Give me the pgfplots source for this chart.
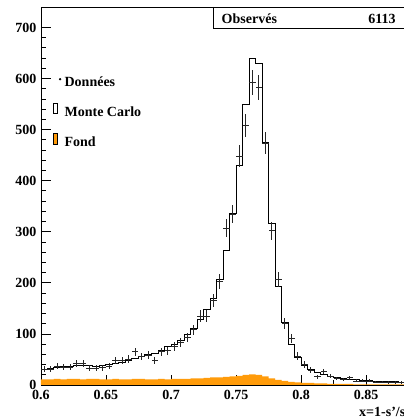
\documentclass[border=0pt]{standalone}
\usepackage{fontspec}
\setmainfont{Liberation Serif}
\usepackage{pgfplots}
\pgfplotsset{compat=1.18}
\usepackage{pgfplotstable}
\definecolor{fond}{RGB}{255,155,10}

% bin lower edge, bin centre, Monte Carlo, data, stat. error, background
\pgfplotstableread{
x     xc     mc   data err  bg
0.600 0.6025 30   31   5.6  11
0.605 0.6075 33   31   5.6  11
0.610 0.6125 35   37   6.1  12
0.615 0.6175 36   35   5.9  11
0.620 0.6225 37   35   5.9  12
0.625 0.6275 38   42   6.5  12
0.630 0.6325 38   42   6.5  11
0.635 0.6375 38   33   5.7  12
0.640 0.6425 37   33   5.7  12
0.645 0.6475 38   34   5.8  11
0.650 0.6525 40   37   6.1  11
0.655 0.6575 43   48   6.9  12
0.660 0.6625 45   48   6.9  11
0.665 0.6675 48   51   7.1  11
0.670 0.6725 51   65   8.1  12
0.675 0.6775 56   56   7.5  12
0.680 0.6825 59   59   7.7  11
0.685 0.6875 62   48   6.9  11
0.690 0.6925 67   65   8.1  12
0.695 0.6975 75   67   8.2  11
0.700 0.7025 80   76   8.7  12
0.705 0.7075 88   83   9.1  12
0.710 0.7125 98   93   9.6  12
0.715 0.7175 111  108  10.4 13
0.720 0.7225 129  135  11.6 13
0.725 0.7275 147  135  11.6 14
0.730 0.7325 170  165  12.8 15
0.735 0.7375 206  203  14.2 15
0.740 0.7425 263  307  17.5 16
0.745 0.7475 335  335  18.3 17
0.750 0.7525 430  448  21.2 18
0.755 0.7575 550  508  22.5 20
0.760 0.7625 640  593  24.4 21
0.765 0.7675 629  582  24.1 20
0.770 0.7725 474  474  21.8 17
0.775 0.7775 316  302  17.4 13
0.780 0.7825 193  207  14.4 10
0.785 0.7875 122  121  11.0 8
0.790 0.7925 80   91   9.5  6
0.795 0.7975 54   57   7.5  5
0.800 0.8025 39   40   6.3  4
0.805 0.8075 31   29   5.4  4
0.810 0.8125 24   16   4.0  3
0.815 0.8175 20   27   5.2  3
0.820 0.8225 16   17   4.1  2
0.825 0.8275 14   13   3.6  2
0.830 0.8325 12   11   3.3  2
0.835 0.8375 11   14   3.7  2
0.840 0.8425 10   8    2.8  1
0.845 0.8475 9    8    2.8  1
0.850 0.8525 8    8    2.8  1
0.855 0.8575 7    6    2.4  1
0.860 0.8625 7    6    2.4  1
0.865 0.8675 6    5    2.2  1
0.870 0.8725 6    5    2.2  1
0.875 0.8775 5    5    2.2  1
0.880 0.8825 5    5    2.2  1
}\histo

\begin{document}
\begin{tikzpicture}
\begin{axis}[
    at={(0,0)}, anchor=origin,
    scale only axis,
    width=364bp, height=378bp,
    xmin=0.6, xmax=0.88,
    ymin=0, ymax=740,
    axis line style={line width=0.9bp},
    tick align=inside,
    xtick pos=bottom, ytick pos=left,
    xtick={0.6,0.65,0.7,0.75,0.8,0.85},
    minor x tick num=1,
    ytick={0,100,200,300,400,500,600,700},
    minor y tick num=4,
    major tick length=10bp, minor tick length=5bp,
    every tick/.style={black, line width=0.8bp},
    scaled ticks=false,
    tick label style={font=\bfseries\fontsize{14bp}{16bp}\selectfont,
        /pgf/number format/assume math mode=true},
    xticklabel style={/pgf/number format/fixed, /pgf/number format/precision=2, yshift=-2bp},
    yticklabel style={xshift=-1bp},
    legend cell align=left,
    legend style={at={(rel axis cs:0.033,0.815)}, anchor=north west,
        draw=none, fill=none, row sep=15bp, inner sep=0pt,
        font=\bfseries\fontsize{14bp}{16bp}\selectfont,
        nodes={inner xsep=3bp, inner ysep=0pt}},
]
\addlegendimage{legend image code/.code={
    \path[draw=none, fill=none] (0bp,-5bp) rectangle (8bp,5bp);
    \fill[black] (6.5bp,3.5bp) circle (0.9bp);}}
\addlegendentry{Données}
\addlegendimage{legend image code/.code={
    \path[draw=none, fill=none] (0bp,-5bp) rectangle (8bp,5bp);
    \draw[black, fill=none, line width=0.8bp] (0bp,-1bp) rectangle (4bp,9bp);}}
\addlegendentry{Monte Carlo}
\addlegendimage{legend image code/.code={
    \path[draw=none, fill=none] (0bp,-5bp) rectangle (8bp,5bp);
    \filldraw[fill=fond, draw=black, line width=0.6bp] (0bp,-2bp) rectangle (4bp,9bp);}}
\addlegendentry{Fond}

% background
\addplot[forget plot, draw=none, fill=fond, const plot mark left]
    table[x=x, y=bg] {\histo} \closedcycle;
% Monte Carlo
\addplot[forget plot, black, line width=1bp, const plot mark left]
    table[x=x, y=mc] {\histo};
% data
\addplot[forget plot, draw=none, mark=none,
    error bars/.cd, y dir=both, y explicit, x dir=both, x explicit,
    error bar style={black!85, line width=0.7bp},
    error mark=none]
    table[x=xc, y=data, x error expr=0.0025, y error=err] {\histo};

% statistics box
\draw[line width=1.3bp] (rel axis cs:0.473,1) -- (rel axis cs:0.473,0.944) -- (rel axis cs:1.05,0.944);
\node[anchor=base west, inner sep=0pt, font=\bfseries\fontsize{14bp}{16bp}\selectfont]
    at (rel axis cs:0.496,0.9575) {Observés};
\node[anchor=base east, inner sep=0pt, font=\bfseries\fontsize{14bp}{16bp}\selectfont]
    at (rel axis cs:0.975,0.9575) {6113};
\end{axis}
\node[anchor=base west, inner sep=0pt, font=\bfseries\fontsize{14bp}{16bp}\selectfont]
    at (318bp,-31.5bp) {x=1-s'/s};
\pgfresetboundingbox
\useasboundingbox (-41bp,-33bp) rectangle (363bp,385bp);
\end{tikzpicture}
\end{document}
